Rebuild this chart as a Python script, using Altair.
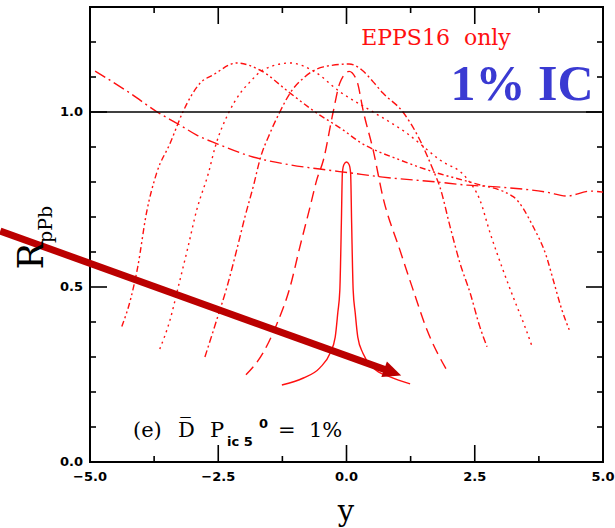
import altair as alt
import pandas as pd

# ---------------- data: R_pPb versus rapidity y ----------------
# solid curve
c1_rap = [-1.26, -0.84, -0.52, -0.32, -0.22, -0.17, -0.13, -0.1, -0.08, -0.05, 0.0,
          0.05, 0.08, 0.1, 0.13, 0.17, 0.22, 0.32, 0.52, 0.85, 1.24]
c1_r = [0.22, 0.24, 0.269, 0.311, 0.357, 0.426, 0.491, 0.683, 0.826, 0.85, 0.857,
        0.85, 0.826, 0.683, 0.491, 0.426, 0.357, 0.311, 0.269, 0.243, 0.223]

# long-dashed curve
c2_rap = [-1.96, -1.63, -1.35, -1.1, -0.91, -0.71, -0.58, -0.45, -0.26, -0.13, 0.05,
          0.2, 0.33, 0.52, 0.71, 1.04, 1.3, 1.57, 1.94]
c2_r = [0.249, 0.311, 0.397, 0.5, 0.614, 0.729, 0.806, 0.863, 1.0, 1.083, 1.116,
        1.09, 1.0, 0.891, 0.757, 0.606, 0.491, 0.377, 0.266]

# dash-dot curve
c3_rap = [-2.76, -2.53, -2.33, -2.14, -1.98, -1.8, -1.69, -1.49, -1.3, -1.1, -0.84,
          -0.45, 0.05, 0.3, 0.52, 0.71, 1.1, 1.43, 1.69, 1.82, 2.02, 2.21, 2.41, 2.6, 2.74]
c3_r = [0.3, 0.406, 0.5, 0.606, 0.7, 0.797, 0.863, 0.94, 1.0, 1.054, 1.097,
        1.129, 1.137, 1.12, 1.086, 1.054, 1.0, 0.92, 0.834, 0.786, 0.672, 0.569, 0.483, 0.386, 0.329]

# dotted curve
c4_rap = [-3.64, -3.44, -3.28, -3.09, -2.92, -2.69, -2.56, -2.3, -2.07, -1.88, -1.63,
          -1.1, -0.61, -0.15, 0.52, 1.17, 1.82, 2.34, 2.6, 2.8, 3.05, 3.25, 3.48, 3.62]
c4_r = [0.323, 0.406, 0.5, 0.614, 0.72, 0.826, 0.9, 0.997, 1.054, 1.086, 1.12,
        1.14, 1.114, 1.06, 1.0, 0.94, 0.863, 0.811, 0.749, 0.654, 0.549, 0.471, 0.386, 0.329]

# dash-dot-dot curve
c5_rap = [-4.38, -4.2, -4.07, -3.9, -3.7, -3.44, -3.19, -2.85, -2.6, -2.14, -1.69,
          -1.1, -0.61, -0.07, 0.26, 1.04, 1.76, 2.47, 3.25, 3.64, 3.9, 4.03, 4.2, 4.36]
c5_r = [0.387, 0.47, 0.557, 0.711, 0.826, 0.91, 1.0, 1.083, 1.106, 1.14, 1.12,
        1.054, 1.0, 0.949, 0.914, 0.863, 0.826, 0.797, 0.758, 0.672, 0.586, 0.52, 0.434, 0.371]

# long dash-dot curve spanning the whole range
c6_rap = [-4.9, -4.22, -3.69, -3.25, -2.92, -2.52, -1.88, -1.1, -0.52, 0.07, 0.71,
          1.76, 2.35, 2.93, 3.9, 4.3, 4.75, 5.0]
c6_r = [1.117, 1.054, 1.0, 0.963, 0.934, 0.909, 0.874, 0.849, 0.837, 0.826, 0.814,
        0.8, 0.791, 0.786, 0.771, 0.76, 0.774, 0.771]

# reference level
unity = [1.0]

# annotation arrow (shaft start, head)
arrow_rap = [-6.75, 0.9]
arrow_r = [0.66, 0.256]
head_rap = [0.9]
head_r = [0.256]

# axis ticks and their labels
x_major = [-5.0, -2.5, 0.0, 2.5, 5.0]
x_major_labels = ["\u22125.0", "\u22122.5", "0.0", "2.5", "5.0"]
x_minor = [-3.75, -1.25, 1.25, 3.75]
y_major = [0.0, 0.5, 1.0]
y_major_labels = ["0.0", "0.5", "1.0"]
y_minor = [0.1, 0.2, 0.3, 0.4, 0.6, 0.7, 0.8, 0.9, 1.1, 1.2]

RED = "#ff1010"
W, H = 513, 455
MAJOR, MINOR = 17, 6
X0, X1 = -5.0, 5.0
Y0, Y1 = 0.0, 1.3

X_SCALE = alt.Scale(domain=[X0, X1], nice=False, zero=False)
Y_SCALE = alt.Scale(domain=[Y0, Y1], nice=False, zero=False)


def X(field):
    return alt.X(field, scale=X_SCALE, axis=None)


def Y(field):
    return alt.Y(field, scale=Y_SCALE, axis=None)


def curve(xs, ys, dash=None, width=1.4):
    df = pd.DataFrame({"rap": xs, "r": ys})
    kw = dict(color=RED, strokeWidth=width, interpolate="monotone")
    if dash is not None:
        kw["strokeDash"] = dash
    return alt.Chart(df).mark_line(**kw).encode(x=X("rap:Q"), y=Y("r:Q"))


line1 = curve(c1_rap, c1_r)
line2 = curve(c2_rap, c2_r, dash=[11, 6])
line3 = curve(c3_rap, c3_r, dash=[7, 3, 2, 3])
line4 = curve(c4_rap, c4_r, dash=[2, 4])
line5 = curve(c5_rap, c5_r, dash=[6, 3, 2, 3, 2, 3])
line6 = curve(c6_rap, c6_r, dash=[12, 4, 2, 4])

hline = alt.Chart(pd.DataFrame({"r": unity})).mark_rule(color="black", strokeWidth=1.5).encode(
    y=Y("r:Q")
)

# inward-pointing tick marks on all four sides: two-point segments, one per tick id
dx = (X1 - X0) / W   # data units per pixel along x
dy = (Y1 - Y0) / H   # data units per pixel along y
rows = []
k = 0
for vals, L in ((x_major, MAJOR), (x_minor, MINOR)):
    for v in vals:
        rows += [(k, v, Y0), (k, v, Y0 + L * dy)]; k += 1       # bottom
        rows += [(k, v, Y1), (k, v, Y1 - L * dy)]; k += 1       # top
for vals, L in ((y_major, MAJOR), (y_minor, MINOR)):
    for v in vals:
        rows += [(k, X0, v), (k, X0 + L * dx, v)]; k += 1       # left
        rows += [(k, X1, v), (k, X1 - L * dx, v)]; k += 1       # right
tick_df = pd.DataFrame(rows, columns=["tid", "tx", "ty"])

ticks = alt.Chart(tick_df).mark_line(color="#000000", strokeWidth=1.6, opacity=1).encode(
    x=X("tx:Q"), y=Y("ty:Q"), detail="tid:N"
)

# tick labels
x_tick_text = alt.Chart(pd.DataFrame({"xl": x_major, "lab": x_major_labels})).mark_text(
    font="DejaVu Sans", fontWeight="bold", fontSize=13, color="black",
    align="center", baseline="top", dy=9
).encode(x=X("xl:Q"), y=alt.value(H), text="lab:N")

y_tick_text = alt.Chart(pd.DataFrame({"yl": y_major, "lab": y_major_labels})).mark_text(
    font="DejaVu Sans", fontWeight="bold", fontSize=13, color="black",
    align="right", baseline="middle", dx=-7
).encode(y=Y("yl:Q"), x=alt.value(0), text="lab:N")

ARROW = "#bb0000"
shaft = alt.Chart(pd.DataFrame({"rap": arrow_rap, "r": arrow_r})).mark_line(
    color=ARROW, strokeWidth=7, strokeCap="butt"
).encode(x=X("rap:Q"), y=Y("r:Q"))
head = alt.Chart(pd.DataFrame({"rap": head_rap, "r": head_r})).mark_point(
    shape="M-1,-0.9L1,0L-1,0.9Z", filled=True, color=ARROW, opacity=1, size=330, angle=20
).encode(x=X("rap:Q"), y=Y("r:Q"))


def label(text, x, y, size, font="DejaVu Serif", color="black", weight="normal",
          align="left", baseline="alphabetic", angle=0):
    return alt.Chart(pd.DataFrame({"txt": [text]})).mark_text(
        font=font, fontSize=size, color=color, fontWeight=weight,
        align=align, baseline=baseline, angle=angle
    ).encode(text="txt:N", x=alt.value(x), y=alt.value(y))


texts = [
    label("EPPS16\u00a0\u00a0only", 346, 38, 22, color=RED, align="center"),
    label("1% IC", 432, 93, 50, font="Liberation Serif", color="#3a3ad2", weight="bold", align="center"),
    label("(e)", 43, 430, 21),
    label("D\u0305", 88, 430, 21),
    label("P", 120, 430, 21),
    label("ic 5", 137, 439, 13, font="DejaVu Sans", weight="bold"),
    label("0", 169, 421, 13, font="DejaVu Sans", weight="bold"),
    label("=", 188, 430, 21),
    label("1%", 219, 430, 21),
    label("y", 256, 514, 29, align="center"),
    label("R", -47, 249, 36, align="center", angle=270),
    label("pPb", -38, 236, 19, align="left", angle=270),
]

chart = alt.layer(
    line1, line2, line3, line4, line5, line6, hline,
    x_tick_text, y_tick_text, shaft, head, *texts, ticks
).properties(
    width=W, height=H,
    autosize=alt.AutoSizeParams(type="none"),
    padding={"left": 90, "top": 7, "right": 12, "bottom": 66},
    background="white",
).configure_view(
    stroke="black", strokeWidth=2
)

chart.save("out.html", embed_options={"renderer": "svg", "actions": False})
